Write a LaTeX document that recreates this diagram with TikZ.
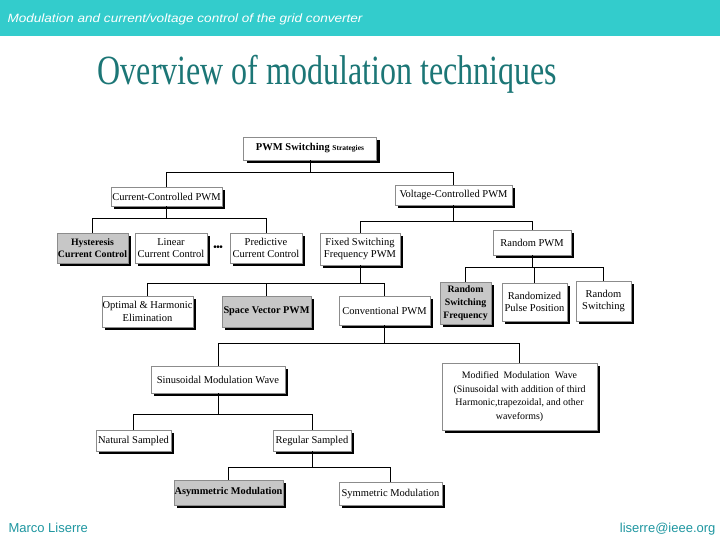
\documentclass[tikz,border=0pt]{standalone}
\usepackage{graphicx}
\usepackage{fontspec}
\setmainfont{Liberation Serif}
\newfontfamily\headfont{Liberation Sans}
\usetikzlibrary{shadows}
\definecolor{BarraTeal}{RGB}{51,204,204}
\definecolor{TituloTeal}{RGB}{28,118,118}
\definecolor{PieTeal}{RGB}{30,150,160}

\begin{document}
\begin{tikzpicture}[x=1pt,y=-1pt,
  blk/.style={draw=black!45,line width=0.4pt,fill=white,align=center,inner sep=0.5pt,
    font=\fontsize{10.5}{12.5}\selectfont,
    drop shadow={shadow xshift=3pt,shadow yshift=-3pt,fill=black,opacity=1}},
  gblk/.style={blk,fill=black!22,font=\fontsize{10.3}{12.5}\selectfont\bfseries},
  wire/.style={line width=0.6pt}]
  \useasboundingbox (0,0) rectangle (720,540);

  % header, title, footer
  \fill[BarraTeal] (0,0) rectangle (720,36);
  \node[anchor=west,text=white,font=\headfont\itshape\fontsize{12}{14}\selectfont] (cabecera) at (4,19) {\scalebox{1.13}[1]{Modulation and current/voltage control of the grid converter}};
  \node[anchor=base,text=TituloTeal,font=\fontsize{32}{36}\selectfont] (titulo) at (327.5,85) {\scalebox{1}[1.3]{Overview of modulation techniques}};
  \node[anchor=base west,text=PieTeal,font=\headfont\fontsize{13}{15}\selectfont] (autor) at (5,532) {Marco Liserre};
  \node[anchor=base east,text=PieTeal,font=\headfont\fontsize{13}{15}\selectfont] (correo) at (719,532) {liserre@ieee.org};

  % boxes
  \node[blk,minimum width=133,minimum height=23] (pwm) at (310,148.5) {\textbf{PWM Switching} {\fontsize{7.5}{8}\selectfont\bfseries Strategies}};
  \node[blk,minimum width=111,minimum height=19] (cc) at (166.5,196.5) {Current-Controlled PWM};
  \node[blk,minimum width=117,minimum height=20] (vc) at (453.5,195) {Voltage-Controlled PWM};
  \node[gblk,minimum width=71,minimum height=30,font=\fontsize{9.8}{12.5}\selectfont\bfseries] (hyst) at (92.5,248) {Hysteresis\\Current Control};
  \node[blk,minimum width=72,minimum height=30] (lin) at (171,248) {Linear\\Current Control};
  \node[font=\fontsize{10}{12}\selectfont\bfseries] (puntos) at (218,248) {\textbullet\kern-0.5pt\textbullet\kern-0.5pt\textbullet};
  \node[blk,minimum width=72,minimum height=30] (pred) at (266,248) {Predictive\\Current Control};
  \node[blk,minimum width=80,minimum height=32] (fixed) at (360,249) {Fixed Switching\\Frequency PWM};
  \node[blk,minimum width=78,minimum height=25] (rpwm) at (532,242.5) {Random PWM};
  \node[blk,minimum width=91,minimum height=31] (opt) at (147.5,311.5) {Optimal \& Harmonic\\Elimination};
  \node[gblk,minimum width=89,minimum height=31] (svpwm) at (266.5,311.5) {Space Vector PWM};
  \node[blk,minimum width=91,minimum height=29] (conv) at (384.5,310.5) {Conventional PWM};
  \node[gblk,minimum width=51,minimum height=42,font=\fontsize{9.8}{13}\selectfont\bfseries] (rsf) at (465.5,303) {Random\\Switching\\Frequency};
  \node[blk,minimum width=65,minimum height=38] (rpp) at (534.5,302) {Randomized\\Pulse Position};
  \node[blk,minimum width=55,minimum height=40] (rsw) at (603.5,301) {Random\\Switching};
  \node[blk,minimum width=134,minimum height=27] (sin) at (218,379.5) {Sinusoidal Modulation Wave};
  \node[blk,minimum width=155,minimum height=67,font=\fontsize{9.9}{13.5}\selectfont] (mod) at (519.5,396.5) {Modified~ Modulation~ Wave\\(Sinusoidal with addition of third\\Harmonic,trapezoidal, and other\\waveforms)};
  \node[blk,minimum width=75,minimum height=21] (nat) at (133.5,440.5) {Natural Sampled};
  \node[blk,minimum width=78,minimum height=21] (reg) at (312,440.5) {Regular Sampled};
  \node[gblk,minimum width=107,minimum height=25] (asym) at (228.5,492.5) {Asymmetric Modulation};
  \node[blk,minimum width=103,minimum height=23] (sym) at (390.5,493.5) {Symmetric Modulation};

  % connectors
  \draw[wire] (pwm.south) -- ++(0,12) -| (cc.north);
  \draw[wire] (pwm.south) -- ++(0,12) -| (vc.north);
  \draw[wire] (cc.south) -- ++(0,12) -| (hyst.north);
  \draw[wire] (cc.south) -- ++(0,12) -| (pred.north);
  \draw[wire] (vc.south) -- ++(0,16) -| (fixed.north);
  \draw[wire] (vc.south) -- ++(0,16) -| (rpwm.north);
  \draw[wire] (fixed.south) -- ++(0,18) -| (opt.north);
  \draw[wire] (fixed.south) -- ++(0,18) -| (svpwm.north);
  \draw[wire] (fixed.south) -- ++(0,18) -| (conv.north);
  \draw[wire] (rpwm.south) -- ++(0,12) -| (rsf.north);
  \draw[wire] (rpwm.south) -- ++(0,12) -| (rpp.north);
  \draw[wire] (rpwm.south) -- ++(0,12) -| (rsw.north);
  \draw[wire] (conv.south) -- ++(0,18) -| (sin.north);
  \draw[wire] (conv.south) -- ++(0,18) -| (mod.north);
  \draw[wire] (sin.south) -- ++(0,21) -| (nat.north);
  \draw[wire] (sin.south) -- ++(0,21) -| (reg.north);
  \draw[wire] (reg.south) -- ++(0,16) -| (asym.north);
  \draw[wire] (reg.south) -- ++(0,16) -| (sym.north);
\end{tikzpicture}
\end{document}
